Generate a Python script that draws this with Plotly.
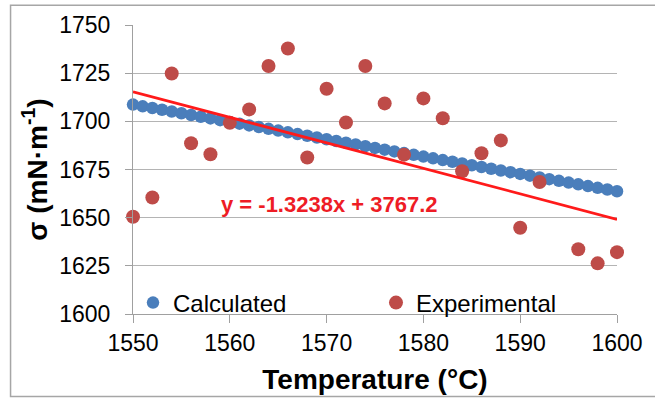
import plotly.graph_objects as go

# ---- data ----
calc_temp = list(range(1550, 1601))
calc_sigma = [1708.7, 1707.8, 1706.9, 1706.0, 1705.1, 1704.2, 1703.3, 1702.4, 1701.5, 1700.6,
              1699.7, 1698.8, 1697.9, 1697.0, 1696.1, 1695.2, 1694.3, 1693.4, 1692.5, 1691.6,
              1690.7, 1689.8, 1688.9, 1688.0, 1687.1, 1686.2, 1685.3, 1684.4, 1683.5, 1682.6,
              1681.7, 1680.8, 1679.9, 1679.0, 1678.1, 1677.2, 1676.3, 1675.4, 1674.5, 1673.6,
              1672.7, 1671.8, 1670.9, 1670.0, 1669.1, 1668.2, 1667.3, 1666.4, 1665.5, 1664.6,
              1663.7]

exp_temp = [1550, 1552, 1554, 1556, 1558, 1560, 1562, 1564, 1566, 1568, 1570, 1572, 1574,
            1576, 1578, 1580, 1582, 1584, 1586, 1588, 1590, 1592, 1596, 1598, 1600]
exp_sigma = [1650.5, 1660.5, 1724.8, 1688.6, 1682.9, 1699.2, 1706.2, 1728.7, 1737.8, 1681.2,
             1716.9, 1699.4, 1728.7, 1709.3, 1682.7, 1711.9, 1701.6, 1674.1, 1683.4, 1690.1,
             1644.8, 1668.5, 1633.6, 1626.3, 1632.1]

trend_slope = -1.3238
trend_intercept = 3767.2
trend_x = [1550, 1600]
trend_label = "y = -1.3238x + 3767.2"

x_ticks = [1550, 1560, 1570, 1580, 1590, 1600]
y_ticks = [1600, 1625, 1650, 1675, 1700, 1725, 1750]

FONT = "Arial, 'Liberation Sans', sans-serif"

fig = go.Figure()

fig.add_trace(go.Scatter(
    x=calc_temp, y=calc_sigma, mode="markers", name="Calculated",
    marker=dict(color="#4a7ebb", size=12.5, line=dict(width=0)),
    cliponaxis=False,
))
fig.add_trace(go.Scatter(
    x=exp_temp, y=exp_sigma, mode="markers", name="Experimental",
    marker=dict(color="#be4b48", size=14, line=dict(width=0)),
    cliponaxis=False,
))
fig.add_trace(go.Scatter(
    x=trend_x, y=[trend_slope * t + trend_intercept for t in trend_x],
    mode="lines", line=dict(color="#ff1a1a", width=2.8),
    showlegend=False, hoverinfo="skip", cliponaxis=False,
))

fig.add_annotation(
    x=1570.3, y=1656.8, xref="x", yref="y", text="<b>" + trend_label + "</b>",
    showarrow=False, font=dict(family=FONT, size=22, color="#ee1c25"),
    xanchor="center", yanchor="middle",
)

# outer frame
fig.add_shape(type="rect", xref="paper", yref="paper",
              x0=-0.253, x1=1.1, y0=-0.2852, y1=1.0687,
              line=dict(color="#a6a6a6", width=1.5), layer="below")

fig.update_layout(
    width=655, height=401,
    margin=dict(l=133, r=29, t=25, b=85),
    paper_bgcolor="white", plot_bgcolor="white",
    font=dict(family=FONT, size=23, color="black"),
    legend=dict(
        orientation="h", x=0.0, y=0.038, xanchor="left", yanchor="middle",
        bgcolor="rgba(0,0,0,0)", font=dict(family=FONT, size=24, color="black"),
        entrywidth=198, entrywidthmode="pixels", itemsizing="trace",
        tracegroupgap=0,
    ),
    xaxis=dict(
        range=[1550, 1600], tickvals=x_ticks, ticktext=[str(v) for v in x_ticks],
        showgrid=False, zeroline=False,
        showline=True, linecolor="#a0a0a0", linewidth=1,
        ticks="outside", ticklen=8, tickcolor="#a0a0a0",
        ticklabeloverflow="allow",
        tickfont=dict(family=FONT, size=23, color="black"),
        title=dict(text="<b>Temperature (°C)</b>", font=dict(family=FONT, size=28, color="black"),
                   standoff=14),
    ),
    yaxis=dict(
        range=[1600, 1750], tickvals=y_ticks, ticktext=[str(v) for v in y_ticks],
        showgrid=True, gridcolor="#b4b4b4", gridwidth=1, zeroline=False,
        showline=True, linecolor="#a0a0a0", linewidth=1,
        ticks="outside", ticklen=7, tickcolor="#a0a0a0", ticklabelstandoff=10,
        tickfont=dict(family=FONT, size=23, color="black"),
        title=dict(text="<b>σ (mN·m<sup>-1</sup>)</b>", font=dict(family=FONT, size=28, color="black"),
                   standoff=3),
    ),
)

fig.write_html("out.html", config={"displayModeBar": False},
               post_script="document.body.style.margin='0';")
